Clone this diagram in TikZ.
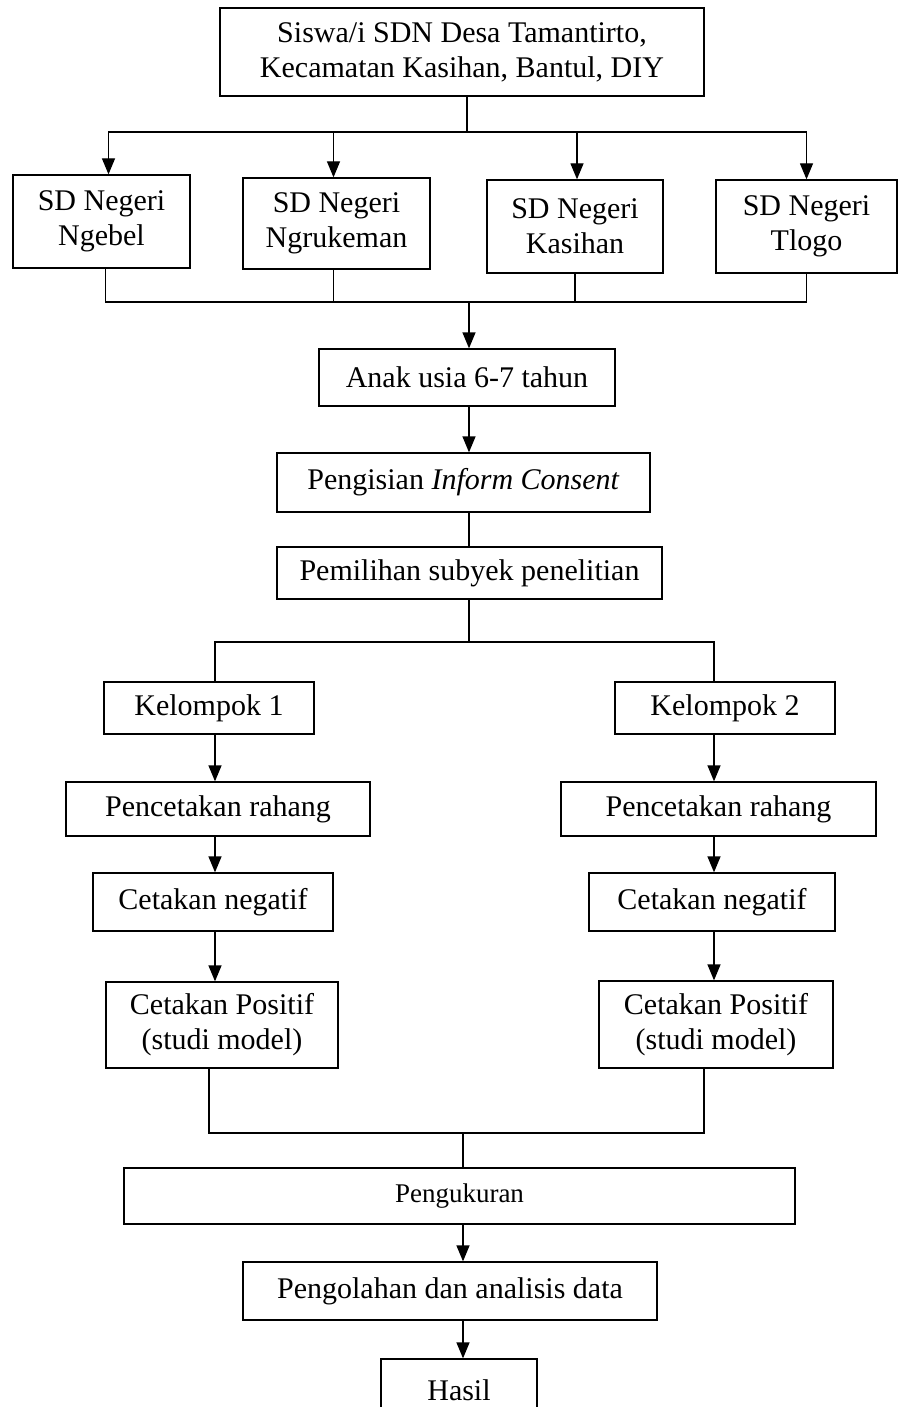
\documentclass[tikz,border=0pt]{standalone}
\usepackage{fontspec}
\setmainfont{Liberation Serif}
\usetikzlibrary{arrows.meta}
\begin{document}
\begin{tikzpicture}[x=1pt,y=-1pt,line width=1.3pt,>={Triangle[width=13pt,length=16pt]},
  box/.style 2 args={draw,minimum width=#1,minimum height=#2,inner sep=0pt,align=center,
    font=\fontsize{30}{35}\selectfont}]
\useasboundingbox (0,0) rectangle (899,1407);
\node[box={484pt}{88pt}] (top) at (462,52) {Siswa/i SDN Desa Tamantirto,\\Kecamatan Kasihan, Bantul, DIY};
\node[box={177pt}{93pt}] (sd1) at (101.5,221.5) {SD Negeri\\Ngebel};
\node[box={187pt}{91pt}] (sd2) at (336.5,223.5) {SD Negeri\\Ngrukeman};
\node[box={176pt}{93pt}] (sd3) at (575,226.5) {SD Negeri\\Kasihan};
\node[box={181pt}{93pt}] (sd4) at (806.5,226.5) {SD Negeri\\Tlogo};
\node[box={296pt}{57pt}] (anak) at (467,377.5) {Anak usia 6-7 tahun};
\node[box={373pt}{59pt}] (inform) at (463.5,482.5) {Pengisian \textit{Inform Consent}};
\node[box={385pt}{52pt}] (pilih) at (469.5,573) {Pemilihan subyek penelitian};
\node[box={210pt}{52pt}] (kel1) at (209,708) {Kelompok 1};
\node[box={220pt}{52pt}] (kel2) at (725,708) {Kelompok 2};
\node[box={304pt}{54pt}] (cetak1) at (218,809) {Pencetakan rahang};
\node[box={315pt}{54pt}] (cetak2) at (718.5,809) {Pencetakan rahang};
\node[box={240pt}{58pt}] (neg1) at (213,902) {Cetakan negatif};
\node[box={246pt}{58pt}] (neg2) at (712,902) {Cetakan negatif};
\node[box={232pt}{86pt}] (pos1) at (222,1025) {Cetakan Positif\\(studi model)};
\node[box={234pt}{87pt}] (pos2) at (716,1024.5) {Cetakan Positif\\(studi model)};
\node[box={671pt}{56pt},font=\fontsize{27}{32}\selectfont] (ukur) at (459.5,1196) {Pengukuran};
\node[box={414pt}{58pt}] (olah) at (450,1291) {Pengolahan dan analisis data};
\node[box={156pt}{62pt}] (hasil) at (459,1390) {Hasil};
\coordinate (split1) at (467,132);
\coordinate (join1) at (469,302);
\coordinate (split2) at (469,642);
\coordinate (join2) at (463,1133);
\coordinate (lane1) at (215,0);
\coordinate (lane2) at (714,0);
\draw (top.south -| split1) -- (split1);
\draw[->] (split1) -| ([xshift=7pt]sd1.north);
\draw[->] (split1) -| ([xshift=-3pt]sd2.north);
\draw[->] (split1) -| ([xshift=2pt]sd3.north);
\draw[->] (split1) -| (sd4.north);
\draw ([xshift=4pt]sd1.south) |- (join1);
\draw ([xshift=-3pt]sd2.south) |- (join1);
\draw (sd3.south) |- (join1);
\draw (sd4.south) |- (join1);
\draw[->] (join1) -- (anak.north -| join1);
\draw[->] (anak.south -| join1) -- (inform.north -| join1);
\draw (inform.south -| join1) -- (pilih.north -| join1);
\draw (pilih.south -| split2) -- (split2);
\draw (split2) -| (kel1.north -| lane1);
\draw (split2) -| (kel2.north -| lane2);
\foreach \a/\b in {kel1/cetak1,cetak1/neg1,neg1/pos1}
  \draw[->] (\a.south -| lane1) -- (\b.north -| lane1);
\foreach \a/\b in {kel2/cetak2,cetak2/neg2,neg2/pos2}
  \draw[->] (\a.south -| lane2) -- (\b.north -| lane2);
\draw ([xshift=-13pt]pos1.south) |- ([xshift=-12pt]pos2.south |- join2) -- ([xshift=-12pt]pos2.south);
\draw (join2) -- (join2 |- ukur.north);
\draw[->] (join2 |- ukur.south) -- (join2 |- olah.north);
\draw[->] (join2 |- olah.south) -- (join2 |- hasil.north);
\end{tikzpicture}
\end{document}
